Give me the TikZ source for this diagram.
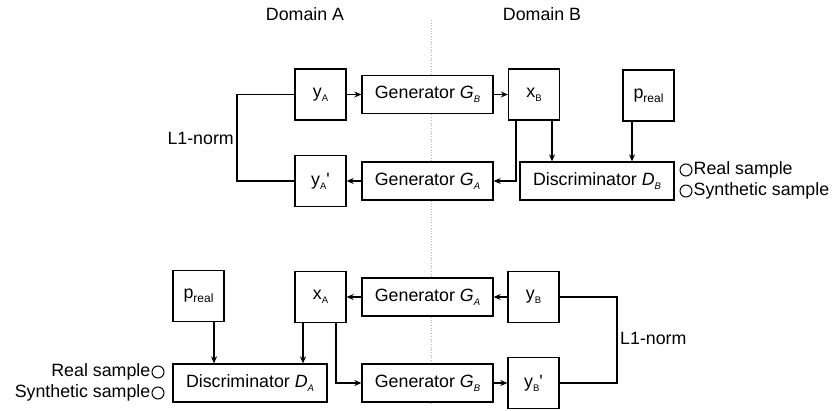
\documentclass[tikz,border=0pt]{standalone}
\usepackage{fontspec}
\setmainfont{Liberation Sans}
\usetikzlibrary{arrows.meta}

\newcommand{\subtxt}[2][9.5]{\raisebox{-0.4ex}{\fontsize{#1}{#1}\selectfont #2}}

\begin{document}
\begin{tikzpicture}[x=1pt, y=-1pt,
                    every node/.style={font=\fontsize{17.8}{20}\selectfont},
                    box/.style={draw, line width=1.3pt, fill=white, minimum width=51pt, minimum height=51pt, inner sep=0pt},
                    wide box/.style={box, minimum width=131pt, minimum height=38pt},
                    disc box/.style={box, minimum width=154pt, minimum height=38pt},
                    flow/.style={line width=1.3pt, -{Stealth[length=7pt, width=6pt]}},
                    loop/.style={line width=1.3pt},
                    answer/.style={circle, draw, line width=1pt, minimum size=12pt, inner sep=0pt}
                   ]

    \useasboundingbox (0,0) rectangle (837,411);

    % Domain split
    \node (domA) at (305,14) {Domain A};
    \node (domB) at (542,14) {Domain B};
    \draw[gray!60, dotted, line width=0.7pt] (431,20) -- (431,405);

    % First cycle (A -> B -> A)
    \node[box] (yA) at (320.5,94.5) {y\subtxt{A}};
    \node[wide box] (GBt) at (427.5,94.5) {Generator \textit{G}\subtxt{\textit{B}}};
    \node[box] (xB) at (534,94.5) {x\subtxt{B}};
    \node[box] (prB) at (648.5,95.5) {p\subtxt[12]{real}};
    \node[box] (yAp) at (320.5,181) {y\subtxt{A}\textquotesingle};
    \node[wide box] (GAt) at (427.5,181) {Generator \textit{G}\subtxt{\textit{A}}};
    \node[disc box] (DB) at (597,181) {Discriminator \textit{D}\subtxt{\textit{B}}};

    % Second cycle (B -> A -> B)
    \node[box] (prA) at (198.5,296) {p\subtxt[12]{real}};
    \node[box] (xA) at (320.5,297) {x\subtxt{A}};
    \node[wide box] (GAb) at (427.5,297) {Generator \textit{G}\subtxt{\textit{A}}};
    \node[box] (yB) at (533.5,297) {y\subtxt{B}};
    \node[disc box] (DA) at (250,383) {Discriminator \textit{D}\subtxt{\textit{A}}};
    \node[wide box] (GBb) at (427.5,383) {Generator \textit{G}\subtxt{\textit{B}}};
    \node[box] (yBp) at (533.5,383) {y\subtxt{B}\textquotesingle};

    % Discriminator outputs
    \foreach \y/\txt [count=\i] in {170/Real sample, 191/Synthetic sample} {
        \node[answer] (okB\i) at (686,\y) {};
        \node[anchor=west, inner sep=1pt] (okBtxt\i) at (okB\i.east) {\txt};
    }
    \foreach \y/\txt [count=\i] in {372/Real sample, 393/Synthetic sample} {
        \node[answer] (okA\i) at (158,\y) {};
        \node[anchor=east, inner sep=1pt] (okAtxt\i) at (okA\i.west) {\txt};
    }

    % L1-norm loops
    \coordinate (loopA) at (237,138);
    \coordinate (loopB) at (617,338);
    \node[anchor=east, inner sep=3pt] (lossA) at (loopA) {L1-norm};
    \node[anchor=west, inner sep=3pt] (lossB) at (loopB) {L1-norm};
    \draw[loop] (yA.west) -| (loopA) |- (yAp.west);
    \draw[loop] (yB.east) -| (loopB) |- (yBp.east);

    % Edges of first cycle
    \draw[flow] (yA) -- (GBt);
    \draw[flow] (GBt) -- (xB);
    \draw[flow] ([xshift=-18pt]xB.south) |- (GAt.east);
    \draw[flow] ([xshift=18pt]xB.south) -- ([xshift=18pt]xB.south |- DB.north);
    \draw[flow] ([xshift=-16.5pt]prB.south) -- ([xshift=-16.5pt]prB.south |- DB.north);
    \draw[flow] (GAt) -- (yAp);

    % Edges of second cycle
    \draw[flow] (yB) -- (GAb);
    \draw[flow] (GAb) -- (xA);
    \draw[flow] ([xshift=-17.5pt]xA.south) -- ([xshift=-17.5pt]xA.south |- DA.north);
    \draw[flow] ([xshift=15.5pt]xA.south) |- (GBb.west);
    \draw[flow] ([xshift=15.5pt]prA.south) -- ([xshift=15.5pt]prA.south |- DA.north);
    \draw[flow] (GBb) -- (yBp);

\end{tikzpicture}
\end{document}
